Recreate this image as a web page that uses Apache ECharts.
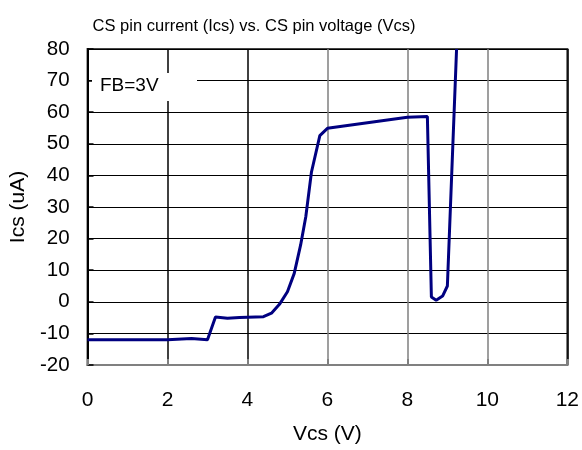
<!DOCTYPE html>
<html>
<head>
<meta charset="utf-8">
<script src="https://cdn.jsdelivr.net/npm/echarts@6/dist/echarts.min.js"></script>
<style>
  html, body { margin: 0; padding: 0; background: #fff; }
  #chart { width: 582px; height: 450px; }
</style>
</head>
<body>
<div id="chart"></div>
<script>
// CS pin voltage (V) and measured CS pin current (uA), FB = 3 V
const vcs = [0, 1, 2, 2.6, 3.0, 3.2, 3.5, 3.8, 4.0, 4.4, 4.6, 4.8, 5.0, 5.17, 5.33, 5.46, 5.6, 5.81, 6.0, 8.0, 8.5, 8.6, 8.72, 8.88, 9.0, 9.23];
const ics = [-12, -12, -12, -11.6, -12, -4.8, -5.2, -5.0, -4.9, -4.7, -3.6, -0.8, 3.2, 9, 18, 27, 41, 52.6, 54.9, 58.4, 58.6, 1.5, 0.5, 1.8, 5, 80];

const xTicks = [0, 2, 4, 6, 8, 10, 12];
const yTicks = [-20, -10, 0, 10, 20, 30, 40, 50, 60, 70, 80];

const chartTitle = 'CS pin current (Ics) vs. CS pin voltage (Vcs)';
const xName = 'Vcs (V)';
const yName = 'Ics (uA)';
const legendText = 'FB=3V';

const font = 'Liberation Sans, Arial, sans-serif';

const chart = echarts.init(document.getElementById('chart'), null, { renderer: 'canvas' });

chart.setOption({
  animation: false,
  title: {
    text: chartTitle,
    left: 249,
    top: 13,
    textAlign: 'center',
    textStyle: { fontFamily: font, fontSize: 16.5, fontWeight: 'normal', color: '#000' }
  },
  grid: {
    left: 85, right: 13, top: 49, bottom: 81,
    show: true,
    borderColor: '#444',
    borderWidth: 2
  },
  xAxis: {
    type: 'value',
    min: xTicks[0],
    max: xTicks[xTicks.length - 1],
    interval: 2,
    name: xName,
    nameLocation: 'middle',
    nameGap: 59,
    nameTextStyle: { fontFamily: font, fontSize: 21, color: '#000' },
    axisLine: { show: true, onZero: false, lineStyle: { color: '#808080', width: 2 } },
    axisTick: { show: true, inside: true, length: 6, lineStyle: { color: '#808080', width: 2 } },
    axisLabel: { fontFamily: font, fontSize: 21, color: '#000', margin: 25 },
    splitLine: {
      show: true,
      lineStyle: { color: ['#000', '#000', '#000', '#7f7f7f', '#7f7f7f', '#7f7f7f', '#000'], width: 1.5 }
    }
  },
  yAxis: {
    type: 'value',
    min: yTicks[0],
    max: yTicks[yTicks.length - 1],
    interval: 10,
    name: yName,
    nameLocation: 'middle',
    nameGap: 43,
    nameTextStyle: { fontFamily: font, fontSize: 21, color: '#000' },
    axisLine: { show: true, onZero: false, lineStyle: { color: '#000', width: 2 } },
    axisTick: { show: true, inside: true, length: 6, lineStyle: { color: '#000', width: 1.5 } },
    axisLabel: { fontFamily: font, fontSize: 20.5, color: '#000', margin: 18 },
    splitLine: { show: true, lineStyle: { color: '#000', width: 1 } }
  },
  series: [{
    type: 'line',
    data: vcs.map((v, i) => [v, ics[i]]),
    showSymbol: false,
    lineStyle: { color: '#000080', width: 3 },
    z: 3
  }],
  graphic: [
    {
      type: 'rect',
      shape: { x: 92, y: 73, width: 105, height: 28 },
      style: { fill: '#fff', stroke: null },
      z: 100
    },
    {
      type: 'text',
      x: 100,
      y: 86,
      style: {
        text: legendText,
        font: '19px ' + font,
        fill: '#000',
        textVerticalAlign: 'middle',
        verticalAlign: 'middle'
      },
      z: 101
    }
  ]
});
</script>
</body>
</html>
